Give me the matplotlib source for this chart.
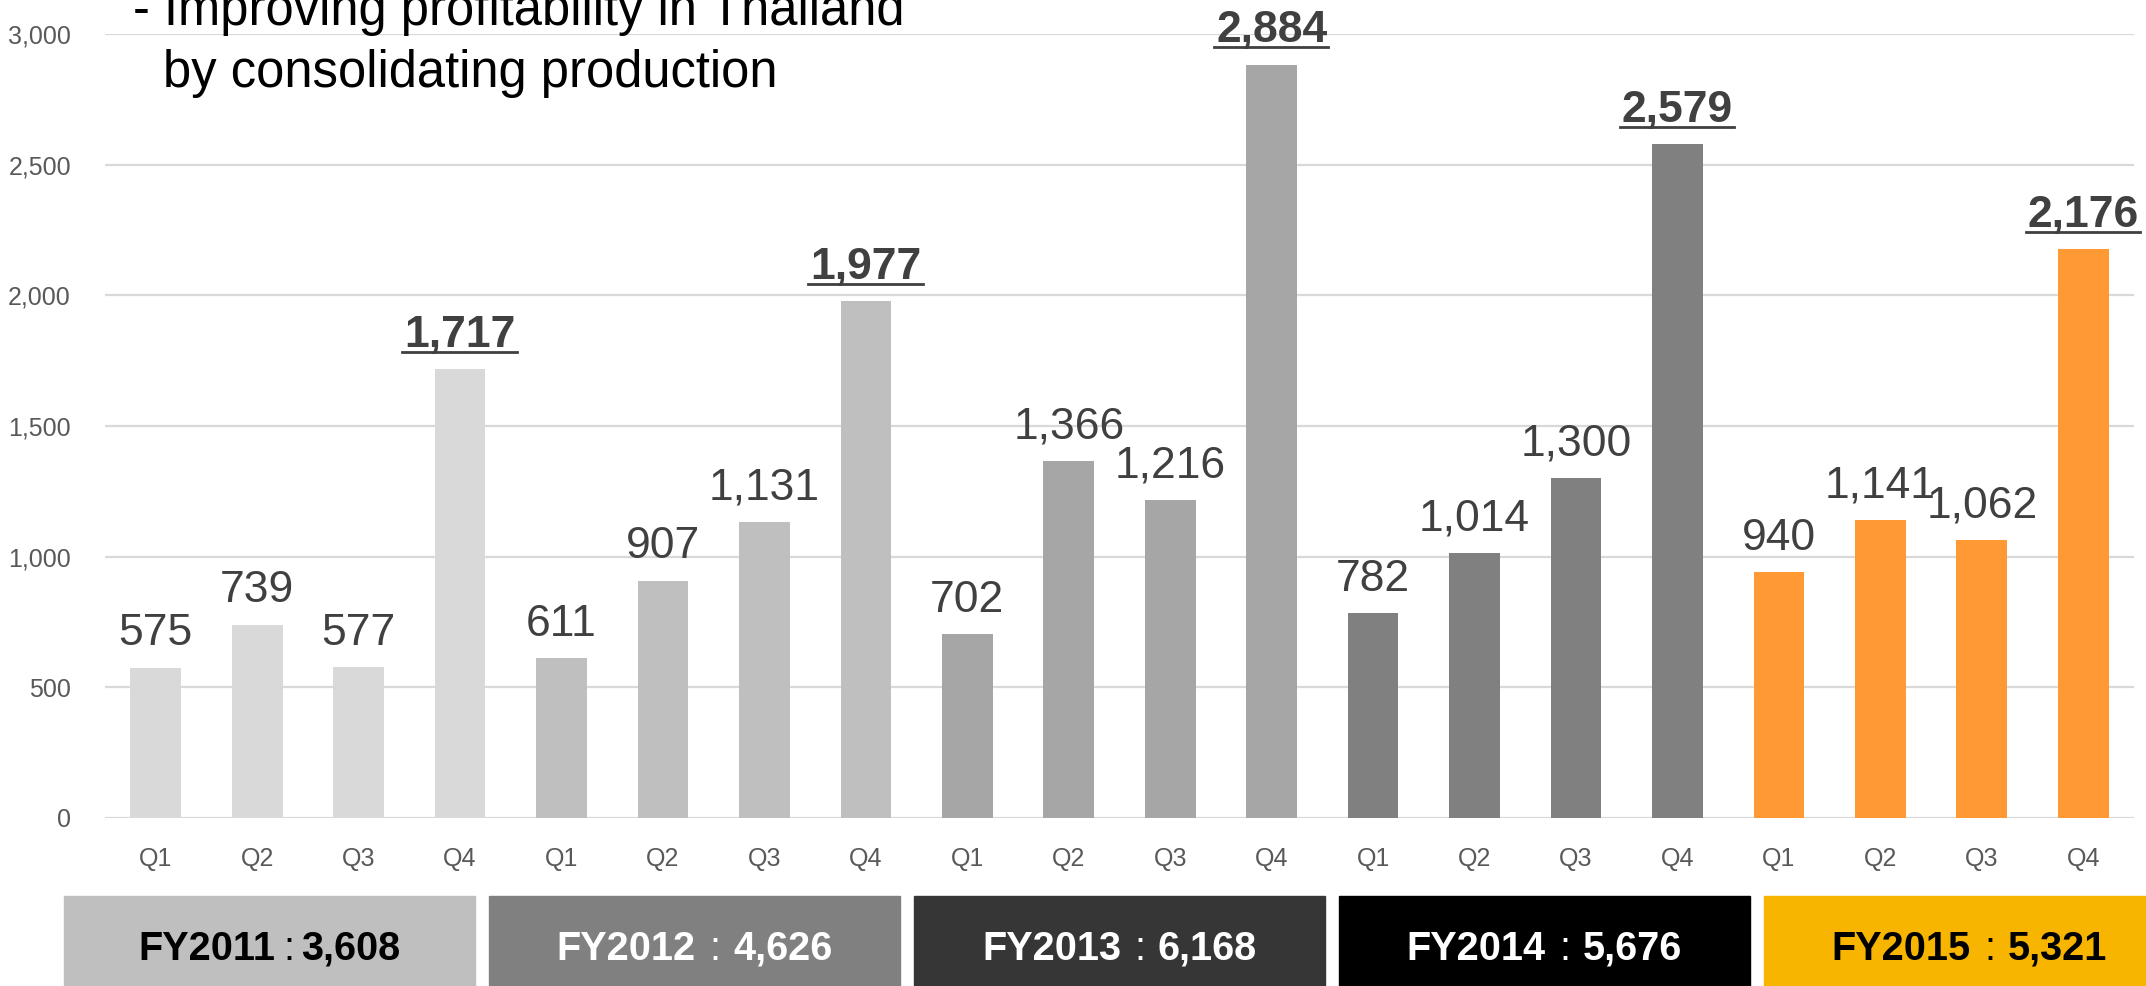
import numpy as np
import matplotlib
matplotlib.use('Agg')
import matplotlib.pyplot as plt
from matplotlib.lines import Line2D
from matplotlib.transforms import IdentityTransform

# data
years = ['FY2011', 'FY2012', 'FY2013', 'FY2014', 'FY2015']
quarters = ['Q1', 'Q2', 'Q3', 'Q4']
fy2011 = [575, 739, 577, 1717]
fy2012 = [611, 907, 1131, 1977]
fy2013 = [702, 1366, 1216, 2884]
fy2014 = [782, 1014, 1300, 2579]
fy2015 = [940, 1141, 1062, 2176]
totals = [3608, 4626, 6168, 5676, 5321]
title_lines = ['- Improving profitability in Thailand', 'by consolidating production']

bar_colors = ['#D9D9D9', '#BFBFBF', '#A6A6A6', '#808080', '#FF9933']
box_colors = ['#BFBFBF', '#808080', '#363636', '#000000', '#F7B500']
box_text_colors = ['#000000', '#FFFFFF', '#FFFFFF', '#FFFFFF', '#000000']

plt.rcParams['font.family'] = ['Liberation Sans', 'Noto Sans CJK JP']

W, H = 2146, 986
fig = plt.figure(figsize=(W / 100, H / 100), dpi=100)
ax = fig.add_axes([105 / W, (H - 817.7) / H, (2134 - 105) / W, (817.7 - 34.3) / H])

series = [fy2011, fy2012, fy2013, fy2014, fy2015]
vals = np.concatenate(series)
cols = np.repeat(bar_colors, 4)
x = np.arange(len(vals))
ax.bar(x, vals, width=0.5, color=cols, zorder=2)

ax.set_xlim(-0.5, len(vals) - 0.5)
ax.set_ylim(0, 3000)
ax.set_yticks(range(0, 3001, 500))
ax.set_yticklabels([f'{v:,}' for v in range(0, 3001, 500)])
ax.set_xticks(x)
ax.set_xticklabels(quarters * len(years))
ax.tick_params(axis='y', length=0, pad=24.5, labelsize=18, labelcolor='#595959')
ax.tick_params(axis='x', length=0, pad=21, labelsize=18, labelcolor='#595959')
ax.yaxis.grid(True, color='#D9D9D9', lw=1.6)
ax.set_axisbelow(True)
for s in ax.spines.values():
    s.set_visible(False)

# value labels, Q4 bold + underlined
bold_texts = []
for i, v in enumerate(vals):
    is_q4 = (i % 4 == 3)
    t = ax.annotate(f'{v:,}', (i, v), xytext=(0, 16.2), textcoords='offset points',
                    ha='center', va='baseline', fontsize=32, color='#404040',
                    fontweight='bold' if is_q4 else 'normal')
    if is_q4:
        bold_texts.append((t, i, v))

# title text
fig.text(133 / W, 1 - 25 / H, title_lines[0], fontsize=36.5, va='baseline', color='black')
fig.text(163 / W, 1 - 87 / H, title_lines[1], fontsize=36.5, va='baseline', color='black')

# fiscal-year boxes: year (bold) + thin colon + total (bold)
box_parts = []
for k, yr in enumerate(years):
    x0 = 64 + k * 425
    fig.patches.append(plt.Rectangle((x0 / W, 0), 411 / W, (H - 896) / H,
                                     transform=fig.transFigure, color=box_colors[k], zorder=0))
    kw = dict(va='baseline', fontsize=28.5, color=box_text_colors[k])
    a = fig.text(0, (H - 960) / H, yr, ha='left', fontweight='bold', **kw)
    b = fig.text(0, (H - 960) / H, ':', ha='center', fontweight='normal', **kw)
    c = fig.text(0, (H - 960) / H, f'{totals[k]:,}', ha='left', fontweight='bold', **kw)
    gap = 26 if k == 0 else 37
    box_parts.append((x0 + 205.5, gap, a, b, c))

fig.canvas.draw()
r = fig.canvas.get_renderer()
for cx, gap, a, b, c in box_parts:
    wa = a.get_window_extent(r).width
    wc = c.get_window_extent(r).width
    left = cx - (wa + gap + wc) / 2
    a.set_x(left / W)
    b.set_x((left + wa + gap / 2) / W)
    c.set_x((left + wa + gap) / W)

# underline for the bold labels
for t, i, v in bold_texts:
    bb = t.get_window_extent(r)
    px, py = ax.transData.transform((i, v))
    base = py + 16.2 * 100 / 72
    uy = base - 5
    fig.add_artist(Line2D([bb.x0 - 2, bb.x1 + 1], [uy, uy], transform=IdentityTransform(),
                          color='#404040', lw=2))

fig.savefig('out.png', dpi=100)
